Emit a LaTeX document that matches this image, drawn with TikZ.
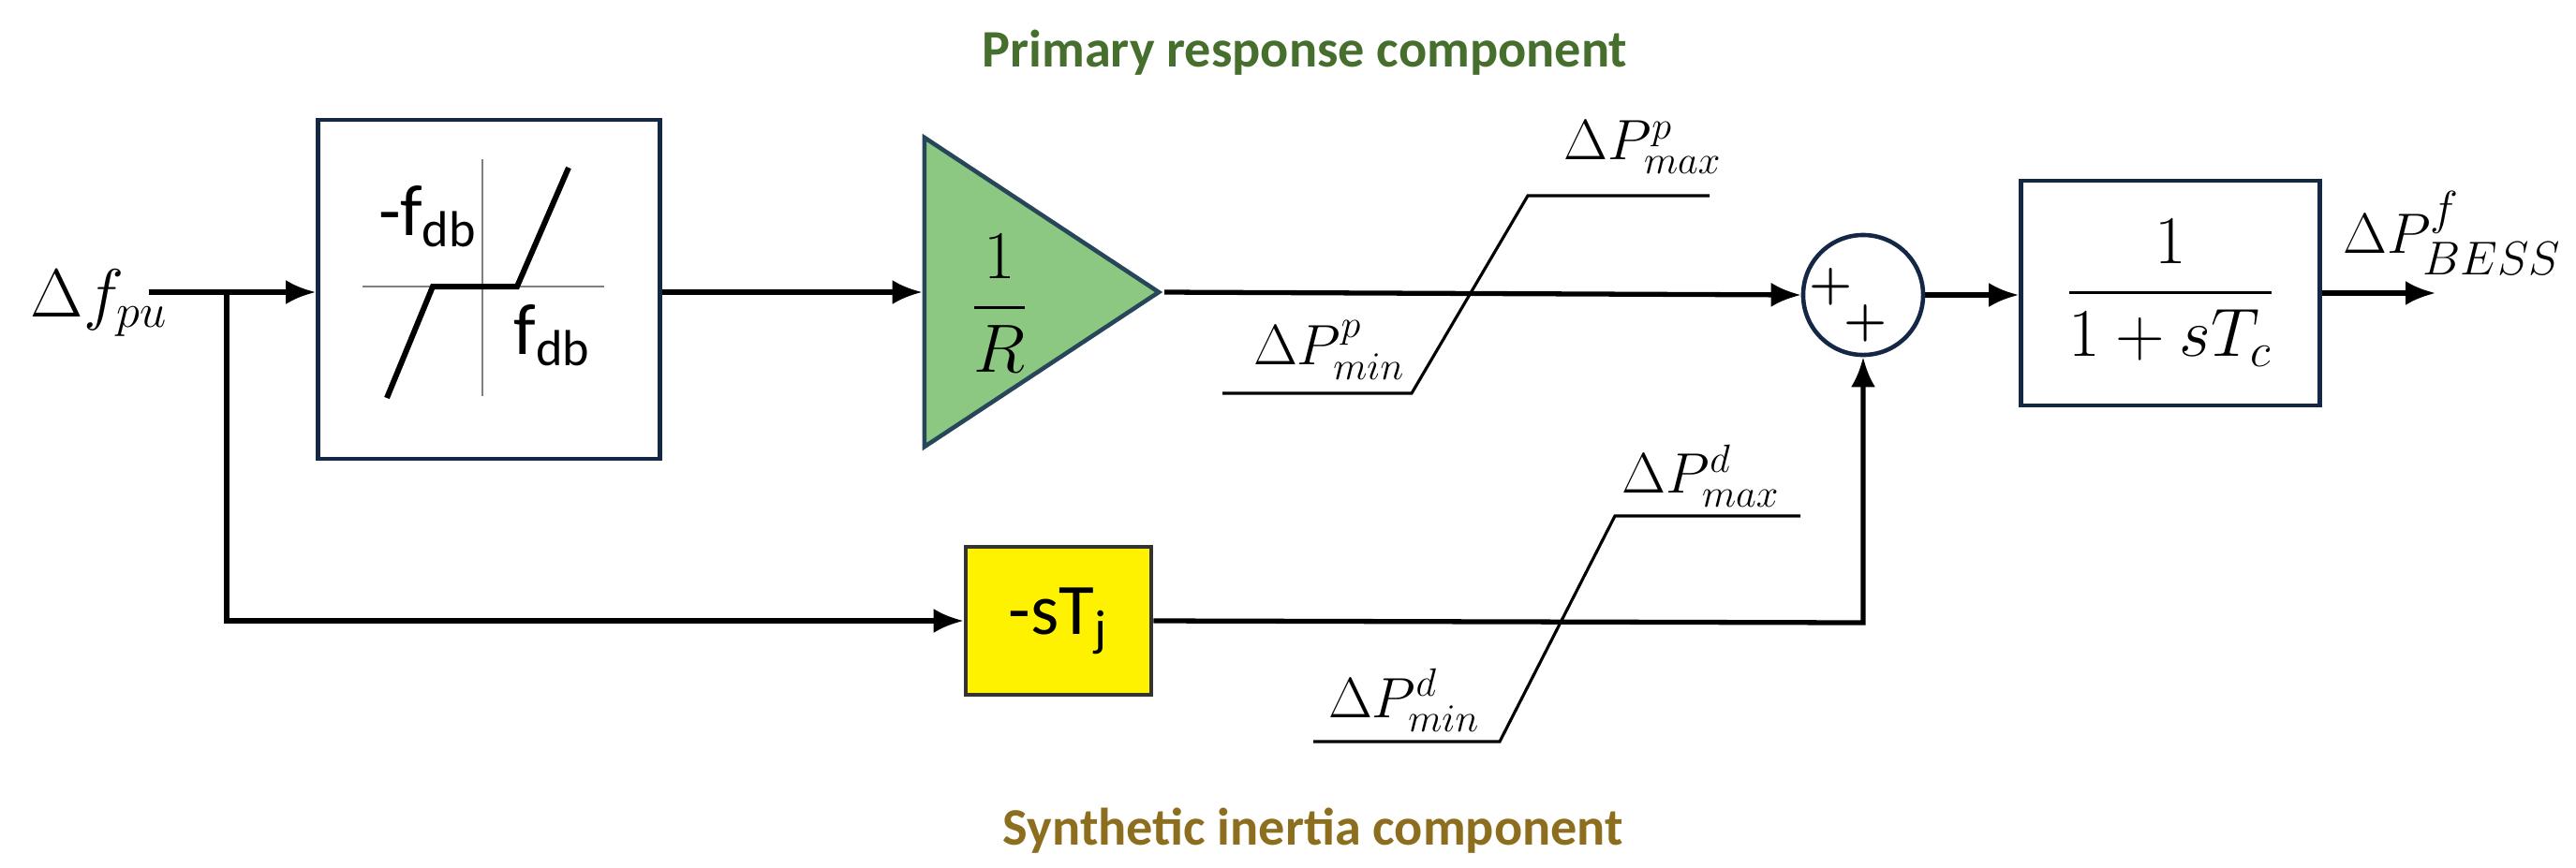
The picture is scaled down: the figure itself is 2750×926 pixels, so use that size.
\documentclass[tikz,border=0pt]{standalone}
\usepackage{amsmath}
\usepackage{fontspec}
\setsansfont{Carlito}
\usetikzlibrary{positioning, arrows.meta, shapes.geometric, calc}
\definecolor{boxblue}{RGB}{20,40,70}
\definecolor{gainfill}{RGB}{140,200,130}
\definecolor{gainedge}{RGB}{40,70,90}
\definecolor{titlegreen}{RGB}{70,110,45}
\definecolor{titlebrown}{RGB}{140,110,30}
\begin{document}
\begin{tikzpicture}[
    x=0.01cm, y=-0.01cm,
    block/.style={
        draw=boxblue,
        line width=1.3pt,
        fill=white,
        inner sep=0pt,
        align=center
    },
    arrow/.style={-{Latex[length=0.32cm,width=0.26cm]}, line width=1.5pt},
    limiter/.style={line width=0.9pt},
    mlabel/.style={font=\fontsize{17}{20}\selectfont},
    title/.style={font=\sffamily\bfseries\fontsize{16}{19}\selectfont}
]
    \useasboundingbox (0,0) rectangle (2750,926);

    % titles
    \node[title, text=titlegreen] (ptitle) at (1393,56) {Primary response component};
    \node[title, text=titlebrown] (stitle) at (1402,887) {Synthetic inertia component};

    % input
    \node[font=\fontsize{21}{24}\selectfont] (in) at (106,324) {$\Delta f_{pu}$};
    \coordinate (start) at (159,312);
    \coordinate (branch) at (242,312);

    % dead band block
    \node[block, minimum width=3.65cm, minimum height=3.62cm] (db) at (522,309) {};
    \draw[gray, line width=0.7pt] (515,170) -- (515,423);
    \draw[gray, line width=0.7pt] (387,306) -- (645,306);
    \draw[line width=1.7pt] (413,425) -- (462,306) -- (552,306) -- (607,179);
    \node[font=\sffamily\fontsize{22}{26}\selectfont] (mfdb) at (457,231) {-f\textsubscript{db}};
    \node[font=\sffamily\fontsize{22}{26}\selectfont] (fdb) at (590,358) {f\textsubscript{db}};

    % gain
    \node[isosceles triangle, isosceles triangle stretches, draw=gainedge, line width=1.3pt,
          fill=gainfill, minimum width=3.3cm, minimum height=2.5cm, inner sep=0pt,
          anchor=apex] (gain) at (1243,312) {};
    \node[font=\fontsize{20}{24}\selectfont] (rlabel) at (1067,324) {$\dfrac{1}{R}$};

    % summing junction
    \node[circle, draw=boxblue, line width=1.3pt, minimum size=1.28cm, inner sep=0pt] (sum) at (1989,315) {};
    \node[font=\bfseries\fontsize{15}{16}\selectfont] (plusa) at (1955,306) {+};
    \node[font=\bfseries\fontsize{15}{16}\selectfont] (plusb) at (1992,345) {+};

    % filter block
    \node[block, minimum width=3.19cm, minimum height=2.4cm, font=\fontsize{20}{24}\selectfont] (filt) at (2317,313) {$\dfrac{1}{1+sT_c}$};
    \coordinate (out) at (2600,313);
    \node[font=\fontsize{19}{22}\selectfont] (outlabel) at (2618,249) {$\Delta P^{f}_{BESS}$};

    % inertia block
    \node[block, draw=black!80, fill=yellow, minimum width=1.98cm, minimum height=1.58cm,
          font=\sffamily\fontsize{22}{26}\selectfont] (inertia) at (1130,663) {-sT\textsubscript{j}};
    \coordinate (corner) at (1989,665);

    % limiters
    \draw[limiter] (1305,420) -- (1507,420) -- (1631,209) -- (1825,209);
    \node[mlabel] (pmax) at (1754,157) {$\Delta P^{p}_{max}$};
    \node[mlabel] (pmin) at (1419,374) {$\Delta P^{p}_{min}$};
    \draw[limiter] (1402,792) -- (1601,792) -- (1724,551) -- (1922,551);
    \node[mlabel] (dmax) at (1816,508) {$\Delta P^{d}_{max}$};
    \node[mlabel] (dmin) at (1499,748) {$\Delta P^{d}_{min}$};

    % connectors
    \draw[arrow] (start) -- (db.west |- start);
    \draw[arrow] (db.east |- start) -- (gain.lower side |- start);
    \draw[arrow] (gain.apex) -- (sum.west);
    \draw[arrow] (sum.east) -- (filt.west |- sum.east);
    \draw[arrow] (filt.east |- out) -- (out);
    \draw[arrow] (branch) |- (inertia.west);
    \draw[arrow] (inertia.east) -- (corner) -- (sum.south);

\end{tikzpicture}
\end{document}
